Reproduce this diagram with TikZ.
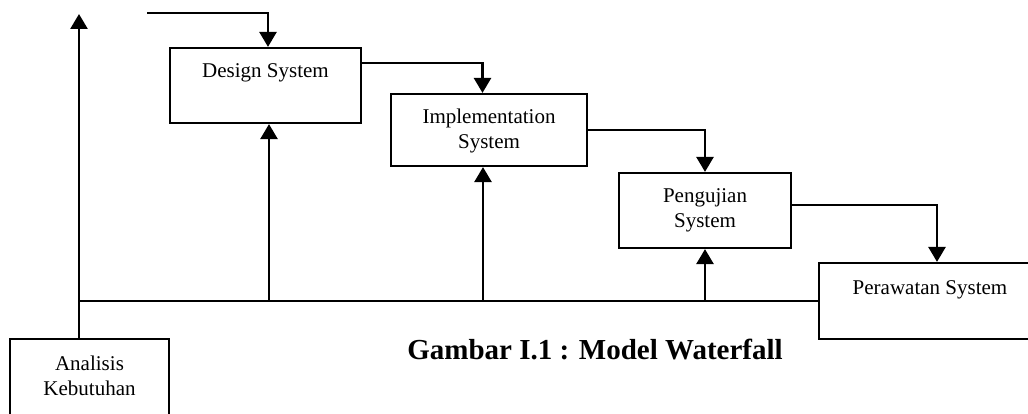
\documentclass[tikz,border=0pt]{standalone}
\usepackage{fontspec}
\setmainfont{Liberation Serif}
\usetikzlibrary{arrows.meta,calc}
\begin{document}
\begin{tikzpicture}[x=1pt,y=-1pt,
  box/.style={draw, line width=2.2pt, inner sep=0pt},
  lbl/.style={font=\fontsize{21}{25}\selectfont, anchor=base, inner sep=0pt},
  conn/.style={line width=2.5pt},
  arr/.style={line width=2.7pt, -{Triangle[length=15pt,width=17pt]}},
]
\useasboundingbox (0,0) rectangle (1028,414);
\clip (0,0) rectangle (1028,414);
% boxes
\node[box, minimum width=191pt, minimum height=75pt] (design) at (265.5,85.5) {};
\node[box, minimum width=196pt, minimum height=72pt] (impl) at (489,130) {};
\node[box, minimum width=172pt, minimum height=75pt] (peng) at (705,210.5) {};
\node[box, minimum width=222pt, minimum height=76pt] (peraw) at (930,301) {};
\node[box, minimum width=159pt, minimum height=100pt] (anal) at (89.5,389) {};
% labels
\node[lbl] (tdesign) at (265.5,78) {Design System};
\node[lbl] (timpl1) at (489,124) {Implementation};
\node[lbl] (timpl2) at (489,149) {System};
\node[lbl] (tpeng1) at (705,203) {Pengujian};
\node[lbl] (tpeng2) at (705,228) {System};
\node[lbl] (tperaw) at (930,294) {Perawatan System};
\node[lbl] (tanal1) at (89.5,370) {Analisis};
\node[lbl] (tanal2) at (89.5,395) {Kebutuhan};
\node[anchor=base, inner sep=0pt, font=\fontsize{29}{33}\selectfont\bfseries] (caption) at (595,359) {Gambar I.1 : Model Waterfall};
% coordinates
\coordinate (feed) at (147,13);
\coordinate (top) at (79,14);
\coordinate (junc) at (79,301);
\coordinate (b1) at (269,301);
\coordinate (b2) at (483,301);
\coordinate (b3) at (705,301);
% cascade connectors
\draw[arr] (feed) -| ([xshift=2.5pt]design.north);
\draw[arr] ([yshift=22.5pt]design.east) -| ([xshift=-6.5pt]impl.north);
\draw[arr] (impl.east) -| (peng.north);
\draw[arr] ([yshift=5.5pt]peng.east) -| ([xshift=7pt]peraw.north);
% feedback
\draw[arr] ([xshift=-10.5pt]anal.north) -- (top);
\draw[conn] (junc) -- (peraw.west);
\draw[arr] (b1) -- (b1 |- design.south);
\draw[arr] (b2) -- (b2 |- impl.south);
\draw[arr] (b3) -- (b3 |- peng.south);
\end{tikzpicture}
\end{document}
